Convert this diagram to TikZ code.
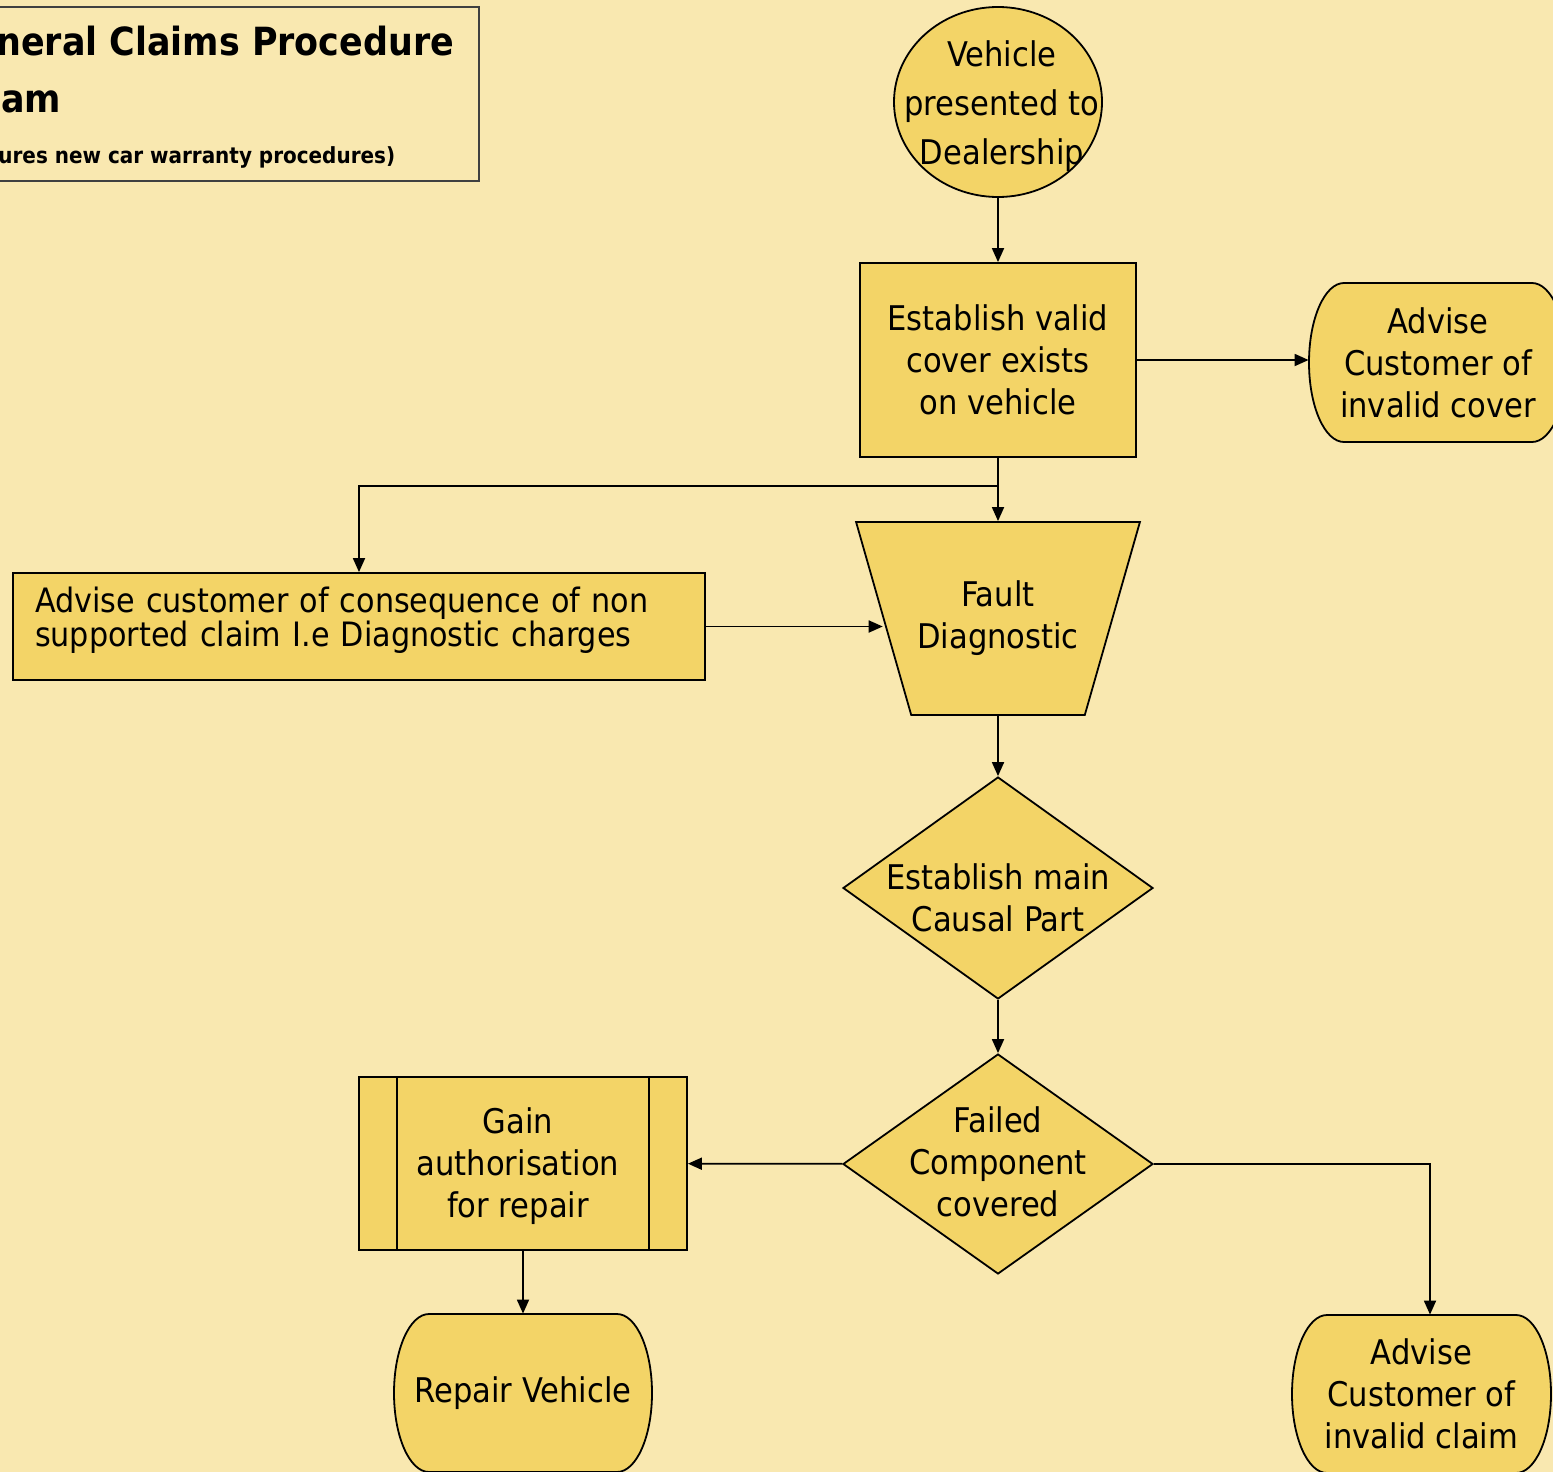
\documentclass[tikz,border=0pt]{standalone}
\usepackage{fontspec}
\setmainfont{DejaVu Sans Condensed}
\newfontfamily\headfont{DejaVu Sans Condensed}
\usetikzlibrary{shapes.geometric,arrows.meta}

\definecolor{pagebg}{HTML}{F9E8B0}
\definecolor{shapefill}{HTML}{F3D467}

% terminal outline: centre x, centre y, width, height (all in px)
\newcommand{\termshape}[4]{%
	\draw[shapebox] ({#1-#3/2+35},{#2-#4/2}) -- ({#1+#3/2-35},{#2-#4/2})
		arc[start angle=90, end angle=-90, x radius=17.5pt, y radius={#4*0.25pt}]
		-- ({#1-#3/2+35},{#2+#4/2})
		arc[start angle=270, end angle=90, x radius=17.5pt, y radius={#4*0.25pt}]
		-- cycle;}

\begin{document}
\begin{tikzpicture}[x=0.5pt, y=-0.5pt]
	\tikzstyle{flow} = [-{Triangle[length=7pt,width=6pt]}, line width=0.9pt]
	\tikzstyle{shapebox} = [draw, fill=shapefill, line width=0.9pt]
	\tikzstyle{txt} = [align=center, font=\fontsize{17}{21}\selectfont]
	\useasboundingbox (0,0) rectangle (1553,1472);
	\fill[pagebg] (0,0) rectangle (1553,1472);
	% heading
	\draw[line width=0.6pt, draw=black!75] (-10,7) rectangle (479,181);
	\node[anchor=base west, inner sep=0pt, font=\headfont\bfseries\fontsize{19.4}{23}\selectfont] (head1) at (-4,55) {neral Claims Procedure};
	\node[anchor=base west, inner sep=0pt, font=\headfont\bfseries\fontsize{19.4}{23}\selectfont] (head2) at (1,112) {am};
	\node[anchor=base west, inner sep=0pt, font=\headfont\bfseries\fontsize{11.1}{13}\selectfont] (head3) at (-2,163) {ures new car warranty procedures)};
	% shapes
	\node[shapebox, ellipse, minimum width=104pt, minimum height=95pt, inner sep=0pt,
		label={[txt, font=\fontsize{17}{24.5}\selectfont, xshift=2pt, yshift=-2pt]center:{Vehicle\\presented to\\Dealership}}] (vehicle) at (998,102) {};
	\node[shapebox, txt, minimum width=138pt, minimum height=97pt] (cover) at (998,360) {Establish valid\\cover exists\\on vehicle};
	\termshape{1438}{362.5}{258}{159}
	\node[txt, minimum width=129pt, minimum height=79.5pt] (advcover) at (1438,362.5) {Advise\\Customer of\\invalid cover};
	\node[shapebox, txt, trapezium, trapezium left angle=58, trapezium right angle=58, shape border rotate=180,
		trapezium stretches body, inner xsep=3pt, minimum width=138pt, minimum height=96.5pt] (fault) at (998,618.5) {Fault\\Diagnostic};
	\node[shapebox, text width=324pt, inner xsep=11pt, minimum height=53.5pt, align=left, text depth=27pt,
		font=\fontsize{16.8}{17}\selectfont] (nonsupp) at (359,626.5) {Advise customer of consequence of non\\supported claim I.e Diagnostic charges};
	\node[shapebox, diamond, minimum width=155pt, minimum height=111pt, inner sep=0pt,
		label={[txt, yshift=-5pt]center:{Establish main\\Causal Part}}] (causal) at (998,888) {};
	\node[shapebox, diamond, minimum width=155pt, minimum height=110pt, inner sep=0pt,
		label={[txt, yshift=1pt]center:{Failed\\Component\\covered}}] (failed) at (998,1164) {};
	\node[shapebox, minimum width=164pt, minimum height=86.5pt] (gain) at (523,1163.5) {};
	\node[txt] (gaintext) at (518,1166) {Gain\\authorisation\\for repair};
	\draw[line width=0.9pt] ([xshift=19.5pt]gain.north west) -- ([xshift=19.5pt]gain.south west);
	\draw[line width=0.9pt] ([xshift=-19.5pt]gain.north east) -- ([xshift=-19.5pt]gain.south east);
	\termshape{523}{1393}{258}{158}
	\node[txt, minimum width=129pt, minimum height=79pt] (repair) at (523,1393) {Repair Vehicle};
	\termshape{1421.5}{1394}{259}{158}
	\node[txt, minimum width=129.5pt, minimum height=79pt] (advclaim) at (1421.5,1394) {Advise\\Customer of\\invalid claim};
	% connectors
	\coordinate (split) at (998,486);
	\draw[flow] (vehicle) -- (cover);
	\draw[flow] (cover.east) -- (cover.east -| advcover.west);
	\draw[flow] (cover) -- (fault);
	\draw[flow] (split) -| (nonsupp);
	\draw[flow] (nonsupp.east) -- (nonsupp.east -| fault.west);
	\draw[flow] (fault) -- (causal);
	\draw[flow] (causal) -- (failed);
	\draw[flow] (failed) -- (gain);
	\draw[flow] (failed) -| ([xshift=4.25pt]advclaim.north);
	\draw[flow] (gain) -- (repair);
\end{tikzpicture}
\end{document}
